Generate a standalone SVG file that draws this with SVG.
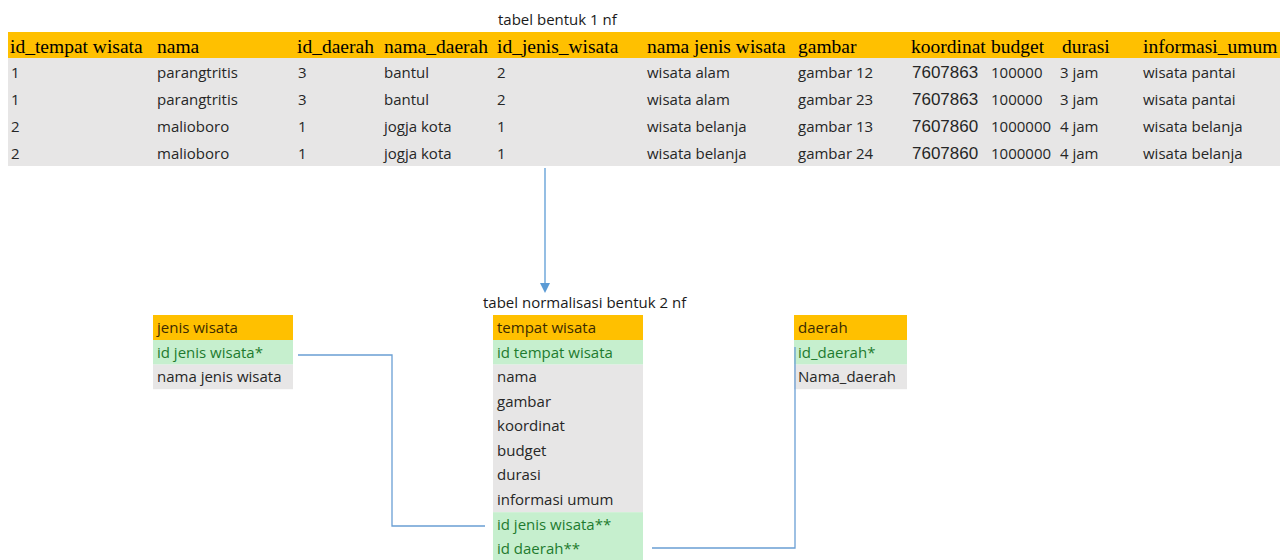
<svg xmlns="http://www.w3.org/2000/svg" width="1285" height="560" viewBox="0 0 1285 560">
<style>
.hdr{fill:#ffc000}
.gray{fill:#e7e6e6}
.green{fill:#c6efce}
.th{font-family:"Liberation Serif",serif;font-size:19.5px;fill:#000}
.td{font-family:"Open Sans","Liberation Sans",sans-serif;font-size:15px;fill:#262626}
.num{font-family:"Liberation Sans",sans-serif;font-size:17px;fill:#262626}
.cap{font-family:"Open Sans","Liberation Sans",sans-serif;font-size:15px;fill:#1a1a1a}
.bh{font-family:"Open Sans","Liberation Sans",sans-serif;font-size:15px;fill:#3b2b00}
.bg{font-family:"Open Sans","Liberation Sans",sans-serif;font-size:15px;fill:#1e7b2e}
.bd{font-family:"Open Sans","Liberation Sans",sans-serif;font-size:15px;fill:#262626}
.conn{fill:none;stroke:#6a9fd4;stroke-width:1.3}
</style>
<rect width="1285" height="560" fill="#ffffff"/>

<g id="tabel-1nf">
<text class="cap" x="498" y="25">tabel bentuk 1 nf</text>
<rect class="hdr" x="8" y="32" width="1272" height="26"/>
<rect class="gray" x="8" y="58" width="1272" height="108"/>
<text class="th" x="10" y="52.5">id_tempat wisata</text>
<text class="th" x="157" y="52.5">nama</text>
<text class="th" x="297" y="52.5">id_daerah</text>
<text class="th" x="384" y="52.5">nama_daerah</text>
<text class="th" x="497" y="52.5">id_jenis_wisata</text>
<text class="th" x="647" y="52.5">nama jenis wisata</text>
<text class="th" x="798" y="52.5">gambar</text>
<text class="th" x="911" y="52.5">koordinat</text>
<text class="th" x="991" y="52.5">budget</text>
<text class="th" x="1062" y="52.5">durasi</text>
<text class="th" x="1143" y="52.5">informasi_umum</text>

<text class="td" x="11" y="78">1</text>
<text class="td" x="157" y="78">parangtritis</text>
<text class="td" x="298" y="78">3</text>
<text class="td" x="384" y="78">bantul</text>
<text class="td" x="497" y="78">2</text>
<text class="td" x="647" y="78">wisata alam</text>
<text class="td" x="798" y="78">gambar 12</text>
<text class="num" x="912" y="78">7607863</text>
<text class="td" x="991" y="78">100000</text>
<text class="td" x="1060" y="78">3 jam</text>
<text class="td" x="1143" y="78">wisata pantai</text>

<text class="td" x="11" y="105">1</text>
<text class="td" x="157" y="105">parangtritis</text>
<text class="td" x="298" y="105">3</text>
<text class="td" x="384" y="105">bantul</text>
<text class="td" x="497" y="105">2</text>
<text class="td" x="647" y="105">wisata alam</text>
<text class="td" x="798" y="105">gambar 23</text>
<text class="num" x="912" y="105">7607863</text>
<text class="td" x="991" y="105">100000</text>
<text class="td" x="1060" y="105">3 jam</text>
<text class="td" x="1143" y="105">wisata pantai</text>

<text class="td" x="11" y="132">2</text>
<text class="td" x="157" y="132">malioboro</text>
<text class="td" x="298" y="132">1</text>
<text class="td" x="384" y="132">jogja kota</text>
<text class="td" x="497" y="132">1</text>
<text class="td" x="647" y="132">wisata belanja</text>
<text class="td" x="798" y="132">gambar 13</text>
<text class="num" x="912" y="132">7607860</text>
<text class="td" x="991" y="132">1000000</text>
<text class="td" x="1060" y="132">4 jam</text>
<text class="td" x="1143" y="132">wisata belanja</text>

<text class="td" x="11" y="159">2</text>
<text class="td" x="157" y="159">malioboro</text>
<text class="td" x="298" y="159">1</text>
<text class="td" x="384" y="159">jogja kota</text>
<text class="td" x="497" y="159">1</text>
<text class="td" x="647" y="159">wisata belanja</text>
<text class="td" x="798" y="159">gambar 24</text>
<text class="num" x="912" y="159">7607860</text>
<text class="td" x="991" y="159">1000000</text>
<text class="td" x="1060" y="159">4 jam</text>
<text class="td" x="1143" y="159">wisata belanja</text>
</g>

<g id="jenis-wisata">
<rect class="hdr" x="153" y="315" width="140" height="25"/>
<rect class="green" x="153" y="340" width="140" height="24.6"/>
<rect class="gray" x="153" y="364.6" width="140" height="24.6"/>
<text class="bh" x="157" y="333">jenis wisata</text>
<text class="bg" x="157" y="357.5">id jenis wisata*</text>
<text class="bd" x="157" y="382">nama jenis wisata</text>
</g>

<g id="tempat-wisata">
<text class="cap" x="483" y="308">tabel normalisasi bentuk 2 nf</text>
<rect class="hdr" x="493" y="315" width="150" height="25"/>
<rect class="green" x="493" y="340" width="150" height="24.6"/>
<rect class="gray" x="493" y="364.6" width="150" height="147.6"/>
<rect class="green" x="493" y="512.2" width="150" height="49"/>
<text class="bh" x="497" y="333">tempat wisata</text>
<text class="bg" x="497" y="357.5">id tempat wisata</text>
<text class="bd" x="497" y="382">nama</text>
<text class="bd" x="497" y="406.6">gambar</text>
<text class="bd" x="497" y="431.2">koordinat</text>
<text class="bd" x="497" y="455.8">budget</text>
<text class="bd" x="497" y="480.4">durasi</text>
<text class="bd" x="497" y="505">informasi umum</text>
<text class="bg" x="497" y="529.6">id jenis wisata**</text>
<text class="bg" x="497" y="554.2">id daerah**</text>
</g>

<g id="daerah">
<rect class="hdr" x="794" y="315" width="113" height="25"/>
<rect class="green" x="794" y="340" width="113" height="24.6"/>
<rect class="gray" x="794" y="364.6" width="113" height="24.6"/>
<text class="bh" x="798" y="333">daerah</text>
<text class="bg" x="798" y="357.5">id_daerah*</text>
<text class="bd" x="798" y="382">Nama_daerah</text>
</g>

<g id="connectors">
<line x1="545" y1="168" x2="545" y2="284" stroke="#5b9bd5" stroke-width="1.3"/>
<polygon points="540,283 550,283 545,293" fill="#5b9bd5"/>
<polyline class="conn" points="298,355 392,355 392,526 485,526"/>
<polyline class="conn" points="795,347 795,548 652,548"/>
</g>
</svg>
